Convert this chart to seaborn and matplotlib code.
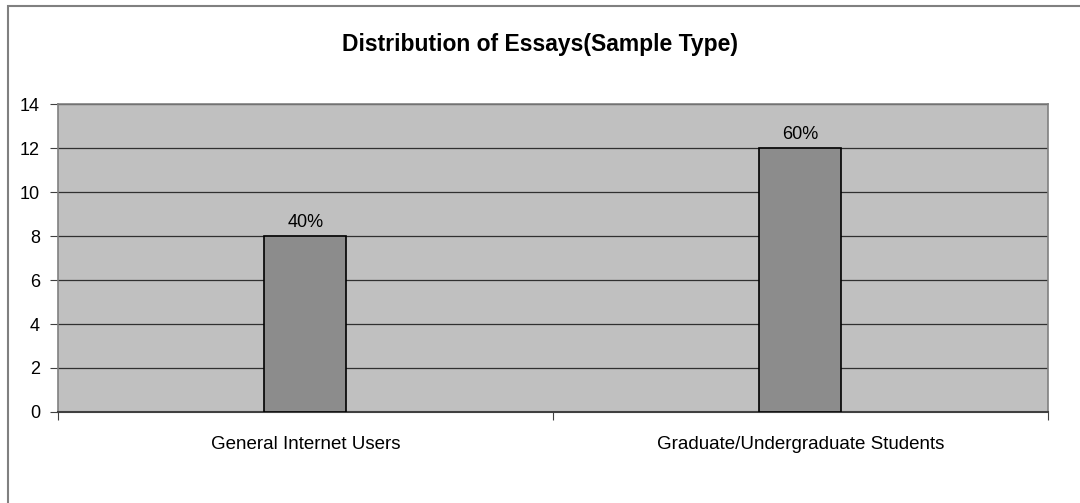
import matplotlib
matplotlib.use("Agg")
import matplotlib.pyplot as plt
import seaborn as sns
import pandas as pd
from matplotlib.patches import Rectangle

# data
categories = ["General Internet Users", "Graduate/Undergraduate Students"]
essay_counts = [8, 12]
y_ticks = [0, 2, 4, 6, 8, 10, 12, 14]

df = pd.DataFrame({"category": categories, "count": essay_counts})
total = sum(essay_counts)

sns.set_style("white")
plt.rcParams["font.family"] = ["Liberation Sans", "DejaVu Sans"]
plt.rcParams["text.color"] = "black"
plt.rcParams["xtick.color"] = "black"
plt.rcParams["ytick.color"] = "black"

fig = plt.figure(figsize=(10.8, 5.03), dpi=100)
ax = fig.add_axes([0.0537, 0.181, 0.9163, 0.612])

# outer chart frame (left + top visible, as in the Excel export)
fig.patches.append(Rectangle((8 / 1080, -0.1), 1.2, 1 - 6 / 503 + 0.1,
                             transform=fig.transFigure, fill=False,
                             edgecolor="#808080", linewidth=1.5, zorder=0))

ax.set_facecolor("#C0C0C0")
sns.barplot(data=df, x="category", y="count", color="#8C8C8C", width=0.166,
            edgecolor="black", linewidth=1.2, saturation=1, ax=ax, zorder=3)

for i, v in enumerate(essay_counts):
    ax.text(i, v + 0.42, f"{v / total:.0%}", ha="center", va="baseline",
            fontsize=13, zorder=4)

ax.set_ylim(0, 14)
ax.set_yticks(y_ticks)
ax.set_xlim(-0.5, 1.5)
ax.grid(axis="y", color="#303030", linewidth=0.9, zorder=1)
ax.set_axisbelow(True)

# Excel-style category ticks at the boundaries, labels in the middle
ax.set_xticks([-0.5, 0.5, 1.5])
ax.set_xticklabels([])
ax.set_xticks([0, 1], minor=True)
ax.set_xticklabels(categories, minor=True)
ax.tick_params(axis="x", which="minor", length=0, pad=17, labelsize=13.5)
ax.tick_params(axis="x", which="major", length=6, width=0.8, color="#404040",
               direction="out", bottom=True)
ax.tick_params(axis="y", length=6, width=0.8, color="#404040", direction="out",
               left=True, labelsize=13, pad=7)

ax.set_xlabel("")
ax.set_ylabel("")
for side in ["top", "right", "left"]:
    ax.spines[side].set_color("#808080")
    ax.spines[side].set_linewidth(1.2)
ax.spines["bottom"].set_color("#404040")
ax.spines["bottom"].set_linewidth(1.5)

fig.text(0.5, 1 - 45 / 503, "Distribution of Essays(Sample Type)",
         ha="center", va="center", fontsize=16.5, fontweight="bold")

fig.savefig("out.png", dpi=100)
